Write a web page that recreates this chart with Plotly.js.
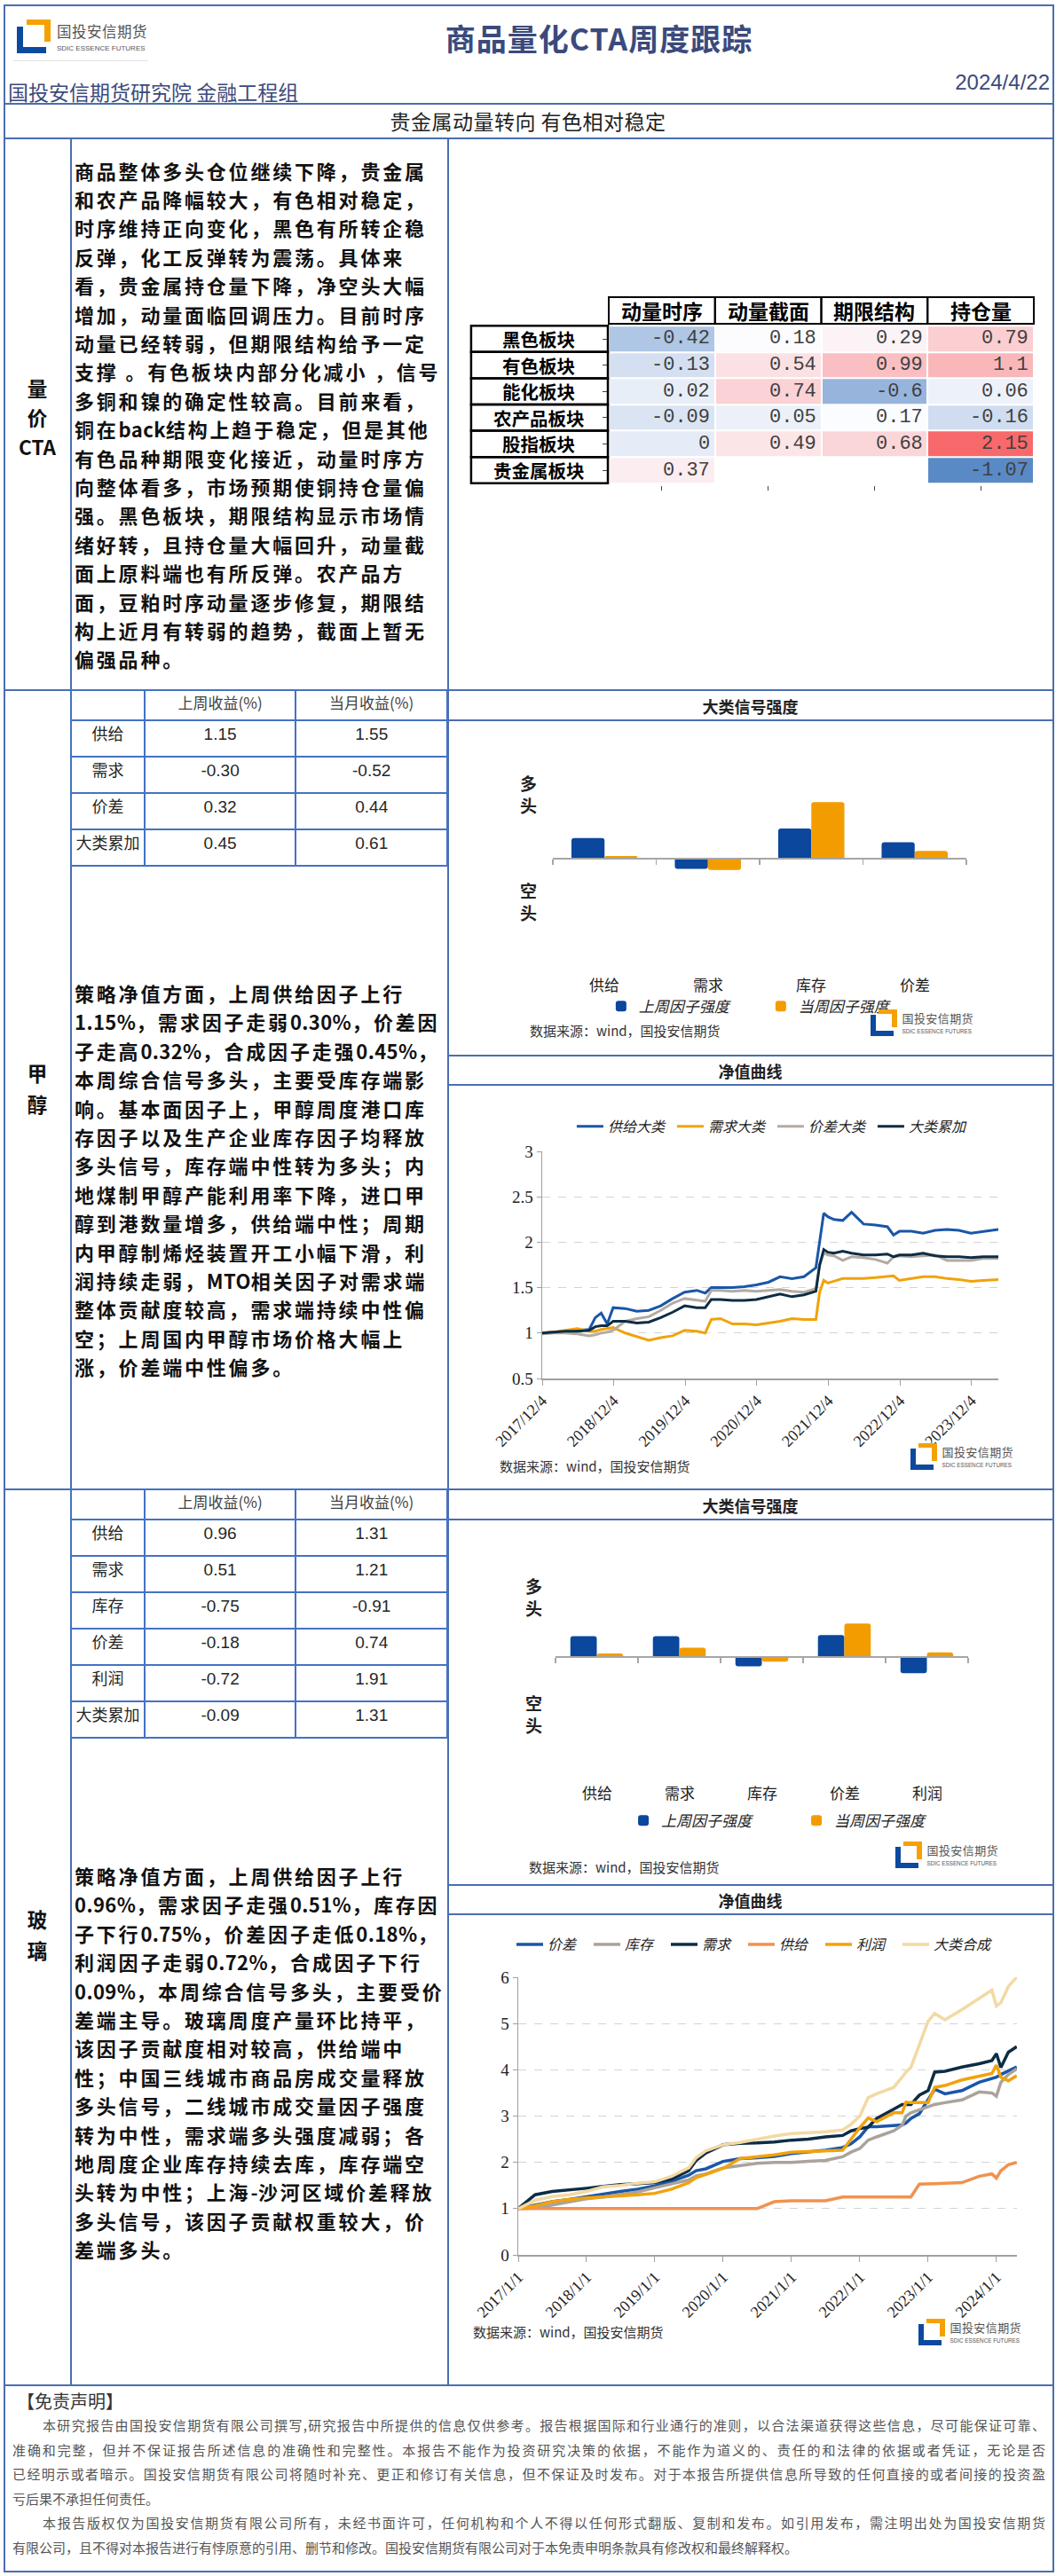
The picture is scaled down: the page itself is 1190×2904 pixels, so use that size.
<!DOCTYPE html>
<html><head><meta charset="utf-8">
<script src="https://cdn.plot.ly/plotly-3.0.1.min.js"></script>
<style>
body{margin:0;background:#fff;}
#page{position:relative;width:1190px;height:2904px;overflow:hidden;background:#fff;font-family:"Noto Sans CJK SC","Noto Sans",sans-serif;color:#111;}
.hl{position:absolute;height:0;border-top:2px solid #4a6eb0;}
.vl{position:absolute;width:0;border-left:2px solid #4a6eb0;}
.para{position:absolute;left:84px;font-weight:700;font-size:22px;letter-spacing:2.8px;line-height:32.4px;color:#111;white-space:nowrap;}
.para .lt{letter-spacing:0.4px;}
.lab{position:absolute;left:4px;width:76px;text-align:center;font-weight:700;font-size:22.5px;color:#111;}
.ctitle{position:absolute;left:505px;width:681px;text-align:center;font-weight:700;font-size:18px;color:#222;}
.src{position:absolute;font-size:15px;color:#333;white-space:nowrap;}
.plt{position:absolute;}
.disc{position:absolute;left:14px;width:1164px;font-size:15px;line-height:27.5px;color:#555;}
.disc div{text-align:justify;text-align-last:justify;white-space:nowrap;}
</style></head>
<body><div id="page">
<!-- frame -->
<div style="position:absolute;left:4px;top:5px;width:1180px;height:2891px;border:2px solid #4a6eb0;"></div>
<div class="hl" style="left:4px;top:116px;width:1182px;"></div>
<div class="hl" style="left:4px;top:155px;width:1182px;"></div>
<div class="hl" style="left:4px;top:777px;width:1182px;"></div>
<div class="hl" style="left:4px;top:1678px;width:1182px;"></div>
<div class="hl" style="left:4px;top:2688px;width:1182px;"></div>
<div class="vl" style="left:79px;top:155px;height:2533px;"></div>
<div class="vl" style="left:504px;top:155px;height:2533px;"></div>
<div class="hl" style="left:504px;top:811px;width:682px;"></div>
<div class="hl" style="left:504px;top:1189px;width:682px;"></div>
<div class="hl" style="left:504px;top:1222px;width:682px;"></div>
<div class="hl" style="left:504px;top:1712px;width:682px;"></div>
<div class="hl" style="left:504px;top:2124px;width:682px;"></div>
<div class="hl" style="left:504px;top:2157px;width:682px;"></div>
<div style="position:absolute;left:15px;top:68px;width:152px;height:0;border-top:1px solid #e2e2e2;"></div>

<!-- header -->
<div style="position:absolute;left:375px;width:600px;top:18px;text-align:center;font-size:34px;line-height:50px;font-weight:700;color:#3b4a7c;letter-spacing:1px;">商品量化CTA周度跟踪</div>
<div style="position:absolute;left:9px;top:86px;font-size:23px;line-height:34px;color:#3b4a7c;white-space:nowrap;">国投安信期货研究院 金融工程组</div>
<div style="position:absolute;right:7px;top:77px;font-size:24px;line-height:32px;color:#3b4a7c;font-family:'Liberation Sans',Arial,sans-serif;">2024/4/22</div>
<div style="position:absolute;left:4px;width:1182px;top:119px;text-align:center;font-size:23px;line-height:34px;color:#222;letter-spacing:0.5px;">贵金属动量转向 有色相对稳定</div>

<!-- section labels -->
<div class="lab" style="top:421px;line-height:33px;">量<br>价<br>CTA</div>
<div class="lab" style="top:1192px;line-height:35px;">甲<br>醇</div>
<div class="lab" style="top:2146px;line-height:35px;">玻<br>璃</div>

<div class="para" id="p1" style="top:175.5px;"></div>
<div class="para" id="p2" style="top:1103px;"></div>
<div class="para" id="p3" style="top:2098px;"></div>

<div class="plt" id="heat" style="left:529px;top:323px;width:637px;height:236px;"></div>
<div class="plt" id="tblM" style="left:79px;top:777px;width:426px;height:202px;"></div>
<div class="plt" id="tblG" style="left:79px;top:1678px;width:426px;height:284px;"></div>

<div class="ctitle" style="top:782px;line-height:28px;">大类信号强度</div>
<div class="ctitle" style="top:1193px;line-height:28px;">净值曲线</div>
<div class="ctitle" style="top:1683px;line-height:28px;">大类信号强度</div>
<div class="ctitle" style="top:2128px;line-height:28px;">净值曲线</div>

<div class="plt" id="barM" style="left:505px;top:813px;width:681px;height:376px;"></div>
<div class="plt" id="netM" style="left:505px;top:1224px;width:681px;height:454px;"></div>
<div class="plt" id="barG" style="left:505px;top:1714px;width:681px;height:410px;"></div>
<div class="plt" id="netG" style="left:505px;top:2159px;width:681px;height:529px;"></div>

<div class="src" style="left:597px;top:1151px;">数据来源：wind，国投安信期货</div>
<div class="src" style="left:563px;top:1642px;">数据来源：wind，国投安信期货</div>
<div class="src" style="left:596px;top:2094px;">数据来源：wind，国投安信期货</div>
<div class="src" style="left:533px;top:2618px;">数据来源：wind，国投安信期货</div>

<div style="position:absolute;left:19px;top:2693px;font-size:20px;line-height:28px;color:#333;">【免责声明】</div>
<div class="disc" style="top:2720px;">
<div style="text-indent:34px;">本研究报告由国投安信期货有限公司撰写,研究报告中所提供的信息仅供参考。报告根据国际和行业通行的准则，以合法渠道获得这些信息，尽可能保证可靠、</div>
<div>准确和完整，但并不保证报告所述信息的准确性和完整性。本报告不能作为投资研究决策的依据，不能作为道义的、责任的和法律的依据或者凭证，无论是否</div>
<div>已经明示或者暗示。国投安信期货有限公司将随时补充、更正和修订有关信息，但不保证及时发布。对于本报告所提供信息所导致的任何直接的或者间接的投资盈</div>
<div style="text-align-last:left;">亏后果不承担任何责任。</div>
<div style="text-indent:34px;">本报告版权仅为国投安信期货有限公司所有，未经书面许可，任何机构和个人不得以任何形式翻版、复制和发布。如引用发布，需注明出处为国投安信期货</div>
<div style="text-align-last:left;">有限公司，且不得对本报告进行有悖原意的引用、删节和修改。国投安信期货有限公司对于本免责申明条款具有修改权和最终解释权。</div>
</div>
</div>
<script>
// ---------------- DATA ----------------
const sectors = ['黑色板块','有色板块','能化板块','农产品板块','股指板块','贵金属板块'];
const factors = ['动量时序','动量截面','期限结构','持仓量'];
const sigMomTS   = [-0.42,-0.13,0.02,-0.09,0,0.37];
const sigMomCS   = [0.18,0.54,0.74,0.05,0.49,null];
const sigTerm    = [0.29,0.99,-0.6,0.17,0.68,null];
const sigOI      = [0.79,1.1,0.06,-0.16,2.15,-1.07];

const retHeader = ['','上周收益(%)','当月收益(%)'];
const mRetLabels = ['供给','需求','价差','大类累加'];
const mRetWeek   = [1.15,-0.30,0.32,0.45];
const mRetMonth  = [1.55,-0.52,0.44,0.61];
const gRetLabels = ['供给','需求','库存','价差','利润','大类累加'];
const gRetWeek   = [0.96,0.51,-0.75,-0.18,-0.72,-0.09];
const gRetMonth  = [1.31,1.21,-0.91,0.74,1.91,1.31];

const barNames = ['上周因子强度','当周因子强度'];
const mBarCats = ['供给','需求','库存','价差'];
const mBarPrev = [0.19,-0.10,0.28,0.15];
const mBarCur  = [0.02,-0.11,0.53,0.07];
const gBarCats = ['供给','需求','库存','价差','利润'];
const gBarPrev = [0.18,0.18,-0.08,0.19,-0.14];
const gBarCur  = [0.03,0.08,-0.04,0.29,0.04];
const longShort = ['多<br>头','空<br>头'];

const mDates = ['2017-12-04','2018-02-01','2018-04-01','2018-06-01','2018-08-01','2018-09-01','2018-10-01','2018-11-01','2018-12-01','2019-02-01','2019-04-01','2019-06-01','2019-08-01','2019-10-01','2019-12-01','2020-02-01','2020-03-15','2020-04-15','2020-06-01','2020-08-01','2020-10-01','2020-12-01','2021-02-01','2021-04-01','2021-06-01','2021-08-01','2021-10-01','2021-10-20','2021-11-10','2021-12-01','2022-01-01','2022-02-15','2022-04-01','2022-06-01','2022-08-01','2022-10-01','2022-11-01','2022-12-01','2023-02-01','2023-04-01','2023-06-01','2023-08-01','2023-10-01','2023-12-01','2024-02-01','2024-04-19'];
const mSupply = [1.00,1.01,1.02,1.03,1.04,1.17,1.22,1.10,1.28,1.27,1.24,1.25,1.30,1.38,1.45,1.47,1.44,1.50,1.50,1.50,1.51,1.53,1.56,1.62,1.60,1.62,1.72,2.00,2.32,2.28,2.25,2.24,2.33,2.20,2.19,2.17,2.08,2.12,2.12,2.10,2.13,2.14,2.13,2.10,2.12,2.14];
const mDemand = [1.00,1.01,1.03,1.05,1.02,1.02,1.04,1.05,1.06,1.00,0.96,0.92,0.95,0.97,1.03,1.02,1.00,1.15,1.16,1.10,1.10,1.09,1.11,1.13,1.16,1.15,1.15,1.45,1.58,1.55,1.57,1.60,1.60,1.60,1.61,1.62,1.63,1.58,1.60,1.62,1.62,1.60,1.59,1.57,1.58,1.59];
const mSpread = [0.99,1.00,1.00,0.99,0.97,0.98,1.00,1.01,1.03,1.13,1.16,1.18,1.25,1.33,1.38,1.36,1.35,1.47,1.47,1.46,1.47,1.46,1.47,1.48,1.46,1.45,1.49,1.75,1.88,1.86,1.85,1.80,1.84,1.83,1.81,1.77,1.84,1.85,1.84,1.85,1.86,1.80,1.80,1.80,1.82,1.82];
const mTotal  = [1.00,1.01,1.02,1.02,1.03,1.07,1.08,1.08,1.13,1.13,1.11,1.12,1.17,1.23,1.30,1.28,1.28,1.37,1.37,1.36,1.36,1.37,1.40,1.43,1.40,1.42,1.46,1.75,1.92,1.89,1.88,1.90,1.88,1.86,1.86,1.87,1.84,1.86,1.86,1.88,1.85,1.84,1.84,1.83,1.84,1.84];
const mNames = ['供给大类','需求大类','价差大类','大类累加'];
const mTickVals = ['2017-12-04','2018-12-04','2019-12-04','2020-12-04','2021-12-04','2022-12-04','2023-12-04'];
const mTickText = ['2017/12/4','2018/12/4','2019/12/4','2020/12/4','2021/12/4','2022/12/4','2023/12/4'];

const gDates = ['2017-01-01','2017-04-01','2017-07-01','2017-10-01','2018-01-01','2018-04-01','2018-07-01','2018-10-01','2019-01-01','2019-04-01','2019-07-01','2019-08-10','2019-10-01','2020-01-01','2020-04-01','2020-07-01','2020-10-01','2021-01-01','2021-04-01','2021-07-01','2021-10-01','2021-11-15','2022-01-01','2022-02-15','2022-04-01','2022-07-01','2022-08-15','2022-09-05','2022-10-01','2022-11-15','2023-01-01','2023-02-05','2023-04-01','2023-07-01','2023-10-01','2023-12-08','2024-01-01','2024-01-25','2024-03-05','2024-04-19'];
const gSpread    = [1.00,1.08,1.15,1.20,1.26,1.32,1.37,1.42,1.49,1.59,1.72,1.82,1.86,2.02,2.08,2.10,2.13,2.19,2.22,2.26,2.32,2.40,2.55,2.77,2.77,2.79,2.81,2.85,2.95,3.05,3.35,3.58,3.48,3.55,3.73,3.82,3.84,3.90,3.98,4.06];
const gInventory = [1.00,1.01,1.08,1.15,1.21,1.25,1.30,1.36,1.45,1.53,1.62,1.71,1.75,1.88,1.93,1.98,2.00,2.00,2.02,2.04,2.12,2.22,2.30,2.48,2.55,2.68,2.80,3.00,3.07,3.14,3.20,3.25,3.29,3.35,3.52,3.50,3.43,3.73,3.90,4.02];
const gDemand    = [1.00,1.30,1.37,1.40,1.44,1.48,1.52,1.54,1.56,1.64,1.82,2.04,2.20,2.38,2.41,2.42,2.44,2.48,2.50,2.55,2.58,2.68,2.73,2.76,2.95,3.15,3.25,3.25,3.25,3.45,3.55,3.95,3.97,4.06,4.13,4.20,4.35,4.05,4.38,4.50];
const gSupply    = [1.00,1.00,1.00,1.00,1.00,1.00,1.00,1.00,1.00,1.00,1.00,1.00,1.00,1.00,1.00,1.00,1.15,1.17,1.17,1.17,1.25,1.25,1.25,1.25,1.25,1.25,1.25,1.25,1.25,1.53,1.53,1.54,1.55,1.56,1.70,1.75,1.66,1.82,1.95,2.00];
const gProfit    = [1.00,1.06,1.15,1.20,1.23,1.25,1.27,1.30,1.33,1.42,1.56,1.67,1.74,1.87,2.08,2.12,2.16,2.22,2.24,2.25,2.26,2.50,2.75,2.96,2.88,3.07,3.07,3.30,3.29,3.29,3.29,3.62,3.66,3.78,3.87,3.92,4.10,3.84,3.76,3.87];
const gSynth     = [1.00,1.18,1.26,1.30,1.37,1.47,1.50,1.55,1.58,1.70,1.88,2.10,2.25,2.38,2.43,2.50,2.57,2.62,2.64,2.66,2.70,2.82,3.00,3.40,3.48,3.62,3.84,3.95,4.05,4.55,5.05,5.22,5.08,5.30,5.55,5.72,5.38,5.45,5.80,6.00];
const gNames = ['价差','库存','需求','供给','利润','大类合成'];
const gTickVals = ['2017-01-01','2018-01-01','2019-01-01','2020-01-01','2021-01-01','2022-01-01','2023-01-01','2024-01-01'];
const gTickText = ['2017/1/1','2018/1/1','2019/1/1','2020/1/1','2021/1/1','2022/1/1','2023/1/1','2024/1/1'];

const textCTA = ['商品整体多头仓位继续下降，贵金属','和农产品降幅较大，有色相对稳定，','时序维持正向变化，黑色有所转企稳','反弹，化工反弹转为震荡。具体来','看，贵金属持仓量下降，净空头大幅','增加，动量面临回调压力。目前时序','动量已经转弱，但期限结构给予一定','支撑 。有色板块内部分化减小 ，信号','多铜和镍的确定性较高。目前来看，','铜在back结构上趋于稳定，但是其他','有色品种期限变化接近，动量时序方','向整体看多，市场预期使铜持仓量偏','强。黑色板块，期限结构显示市场情','绪好转，且持仓量大幅回升，动量截','面上原料端也有所反弹。农产品方','面，豆粕时序动量逐步修复，期限结','构上近月有转弱的趋势，截面上暂无','偏强品种。'];
const textM = ['策略净值方面，上周供给因子上行','1.15%，需求因子走弱0.30%，价差因','子走高0.32%，合成因子走强0.45%，','本周综合信号多头，主要受库存端影','响。基本面因子上，甲醇周度港口库','存因子以及生产企业库存因子均释放','多头信号，库存端中性转为多头；内','地煤制甲醇产能利用率下降，进口甲','醇到港数量增多，供给端中性；周期','内甲醇制烯烃装置开工小幅下滑，利','润持续走弱，MTO相关因子对需求端','整体贡献度较高，需求端持续中性偏','空；上周国内甲醇市场价格大幅上','涨，价差端中性偏多。'];
const textG = ['策略净值方面，上周供给因子上行','0.96%，需求因子走强0.51%，库存因','子下行0.75%，价差因子走低0.18%，','利润因子走弱0.72%，合成因子下行','0.09%，本周综合信号多头，主要受价','差端主导。玻璃周度产量环比持平，','该因子贡献度相对较高，供给端中','性；中国三线城市商品房成交量释放','多头信号，二线城市成交量因子强度','转为中性，需求端多头强度减弱；各','地周度企业库存持续去库，库存端空','头转为中性；上海-沙河区域价差释放','多头信号，该因子贡献权重较大，价','差端多头。'];

// ---------------- RENDER ----------------
const CJK = '"Noto Sans CJK SC", "Noto Sans", sans-serif';
const SERIF = '"Liberation Serif", "DejaVu Serif", serif';
const cfg = {staticPlot:true, displayModeBar:false};
const page = document.getElementById('page');

function fillPara(id, lines){
  document.getElementById(id).innerHTML = lines.map(l=>l.replace(/([A-Za-z0-9.%\-]+)/g,'<span class="lt">$1</span>')).join('<br>');
}
fillPara('p1',textCTA); fillPara('p2',textM); fillPara('p3',textG);

function addLogo(x, y, s){
  const k = s/38;
  [[11,0,27,6,'#f5a100'],[31,0,7,25,'#f5a100'],[0,8,7,30,'#0b4a9f'],[0,31,33,7,'#0b4a9f']].forEach(p=>{
    const d=document.createElement('div');
    d.style.cssText=`position:absolute;left:${x+p[0]*k}px;top:${y+p[1]*k}px;width:${p[2]*k}px;height:${p[3]*k}px;background:${p[4]};`;
    page.appendChild(d);
  });
  const t=document.createElement('div');
  t.style.cssText=`position:absolute;left:${x+45*k}px;top:${y+1*k}px;font-size:${16.5*k}px;line-height:${24*k}px;color:#555;white-space:nowrap;letter-spacing:${0.5*k}px;`;
  t.textContent='国投安信期货'; page.appendChild(t);
  const e=document.createElement('div');
  e.style.cssText=`position:absolute;left:${x+45*k}px;top:${y+27*k}px;font-size:${8*k}px;line-height:${11*k}px;color:#555;white-space:nowrap;font-family:"Liberation Sans Narrow","Liberation Sans",sans-serif;`;
  e.textContent='SDIC ESSENCE FUTURES'; page.appendChild(e);
}
addLogo(19,22,38);
addLogo(981,1138,30);
addLogo(1026,1627,30);
addLogo(1009,2076,30);
addLogo(1035,2614,30);

// heatmap table
(function(){
  const z = sectors.map((s,i)=>[sigMomTS[i],sigMomCS[i],sigTerm[i],sigOI[i]]);
  const vals = z.flat().filter(v=>v!==null).sort((a,b)=>a-b);
  const n = vals.length;
  const med = n%2 ? vals[(n-1)/2] : (vals[n/2-1]+vals[n/2])/2;
  const zmin = vals[0], zmax = vals[n-1];
  const mid = (med-zmin)/(zmax-zmin);
  const W=637,H=212, labW = 156/W, hdrY = 182/H;
  const cellHalf = (W-156)/factors.length/2;
  const ann=[], shapes=[];
  factors.forEach((f,j)=>{
    ann.push({xref:'x',yref:'paper',x:f,y:(1+hdrY)/2,xanchor:'center',yanchor:'middle',text:f,showarrow:false,font:{family:CJK,size:23,color:'#000',weight:700}});
    shapes.push({type:'rect',xref:'x',yref:'paper',x0:j-0.5,x1:j+0.5,y0:hdrY,y1:1,line:{color:'#000',width:2}});
  });
  sectors.forEach((s,i)=>{
    ann.push({xref:'paper',yref:'y',x:labW/2,y:s,xanchor:'center',yanchor:'middle',text:s,showarrow:false,font:{family:CJK,size:20.5,color:'#000',weight:700}});
    shapes.push({type:'rect',xref:'paper',yref:'y',x0:0.003,x1:labW,y0:i-0.5,y1:i+0.5,line:{color:'#000',width:2.5}});
  });
  z.forEach((row,i)=>row.forEach((v,j)=>{
    if(v!==null) ann.push({xref:'x',yref:'y',x:factors[j],y:sectors[i],xanchor:'right',yanchor:'middle',xshift:cellHalf-4,text:String(v),showarrow:false,font:{family:'"Liberation Mono", monospace',size:22,color:'#404040'}});
  }));
  Plotly.newPlot('heat',[{type:'heatmap',z:z,x:factors,y:sectors,zmin:zmin,zmax:zmax,
    colorscale:[[0,'#5A8AC6'],[mid,'#FCFCFF'],[1,'#F8696B']],showscale:false,xgap:2,ygap:2,hoverinfo:'skip'}],
    {width:W,height:H+24,margin:{l:0,r:0,t:12,b:12},paper_bgcolor:'rgba(0,0,0,0)',plot_bgcolor:'#fff',
     xaxis:{domain:[labW,1],type:'category',showticklabels:false,showgrid:false,zeroline:false},
     yaxis:{domain:[0,hdrY],type:'category',autorange:'reversed',showticklabels:false,showgrid:false,zeroline:false},
     annotations:ann,shapes:shapes},cfg);
})();

// return tables
function retTable(id, labels, wk, mo, h){
  const f = a=>a.map(v=>v.toFixed(2));
  Plotly.newPlot(id,[{type:'table',columnwidth:[83,171,171],
    header:{values:retHeader,height:34,align:'center',line:{color:'#4472c4',width:2},fill:{color:'#fff'},
      font:{family:CJK,size:17,color:'#404040'}},
    cells:{values:[labels,f(wk),f(mo)],height:41,align:'center',line:{color:'#4472c4',width:2},fill:{color:'#fff'},
      font:{family:[CJK,'"Liberation Sans", Arial, sans-serif','"Liberation Sans", Arial, sans-serif'],size:[18,19,19],color:'#262626'}},
    domain:{x:[0,1],y:[0,1]}}],
    {width:426,height:h,margin:{l:1,r:1,t:1,b:0},paper_bgcolor:'rgba(0,0,0,0)'},cfg);
}
retTable('tblM',mRetLabels,mRetWeek,mRetMonth,202);
retTable('tblG',gRetLabels,gRetWeek,gRetMonth,284);

// bar charts
function barChart(id, cats, prev, cur, o){
  const data=[
    {type:'bar',x:cats,y:prev,name:barNames[0],marker:{color:'#0a479d',cornerradius:3}},
    {type:'bar',x:cats,y:cur,name:barNames[1],marker:{color:'#f39c00',cornerradius:3}}];
  const ann = cats.map(c=>({xref:'x',yref:'paper',x:c,y:0,xanchor:'center',yanchor:'top',yshift:-8,text:c,showarrow:false,font:{family:CJK,size:17,color:'#222'}}));
  ann.push({xref:'paper',yref:'paper',x:o.lsx,y:o.ly1,xanchor:'center',yanchor:'middle',text:longShort[0],showarrow:false,font:{family:CJK,size:19,color:'#222',weight:700}});
  ann.push({xref:'paper',yref:'paper',x:o.lsx,y:o.ly2,xanchor:'center',yanchor:'middle',text:longShort[1],showarrow:false,font:{family:CJK,size:19,color:'#222',weight:700}});
  Plotly.newPlot(id,data,{width:681,height:o.h,margin:o.m,paper_bgcolor:'rgba(0,0,0,0)',plot_bgcolor:'rgba(0,0,0,0)',
    barmode:'group',bargap:0.36,bargroupgap:0,showlegend:true,
    legend:{orientation:'h',x:o.lgx,y:o.lgy,xanchor:'left',yanchor:'middle',entrywidth:o.ew,entrywidthmode:'pixels',
      font:{family:CJK,size:17,color:'#222',style:'italic'},bgcolor:'rgba(0,0,0,0)'},
    xaxis:{type:'category',anchor:'free',position:0.5,showline:true,linecolor:'#a6a6a6',linewidth:2,ticks:'outside',
      tickson:'boundaries',ticklen:6,tickcolor:'#a6a6a6',tickwidth:1.5,showticklabels:false,showgrid:false,zeroline:false},
    yaxis:{range:[-1,1],tickvals:[-1,1],showticklabels:false,showgrid:true,gridcolor:'#cfcfcf',griddash:'dash',gridwidth:1.5,
      zeroline:false,showline:false,ticks:''},
    annotations:ann},cfg);
}
barChart('barM',mBarCats,mBarPrev,mBarCur,{h:376,m:{l:118,r:97,t:35,b:102},lsx:-0.058,ly1:0.803,ly2:0.297,lgx:0.122,lgy:-0.20,ew:135});
barChart('barG',gBarCats,gBarPrev,gBarCur,{h:410,m:{l:121,r:95,t:24,b:126},lsx:-0.052,ly1:0.762,ly2:0.254,lgx:0.17,lgy:-0.21,ew:150});

// net value charts
function netChart(id, dates, series, o){
  const data = series.map(s=>({type:'scatter',mode:'lines',x:dates,y:s.y,name:s.name,line:{color:s.c,width:o.lw}}));
  if(o.pad) data.push({type:'scatter',mode:'lines',x:[dates[0]],y:[null],name:' ',line:{color:'rgba(0,0,0,0)',width:0},hoverinfo:'skip'});
  Plotly.newPlot(id,data,{width:681,height:o.h,margin:o.m,paper_bgcolor:'rgba(0,0,0,0)',plot_bgcolor:'rgba(0,0,0,0)',showlegend:true,
    legend:{orientation:'h',x:o.lgx,y:o.lgy,xanchor:'left',yanchor:'middle',entrywidth:o.ew,entrywidthmode:'pixels',
      font:{family:CJK,size:16,color:'#222',style:'italic'},bgcolor:'rgba(0,0,0,0)'},
    xaxis:{type:'date',range:o.xr,tickvals:o.tv,ticktext:o.tt,tickangle:-45,ticks:'outside',ticklen:6,tickcolor:'#a0a0a0',
      showline:true,linecolor:'#a0a0a0',linewidth:1.5,showgrid:false,zeroline:false,tickfont:{family:SERIF,size:18,color:'#222'}},
    yaxis:{range:o.yr,dtick:o.dt,ticks:'outside',ticklen:5,tickcolor:'#a0a0a0',showline:true,linecolor:'#a0a0a0',linewidth:1.5,
      gridcolor:'#d4d4d4',griddash:'dash',gridwidth:1.2,zeroline:false,tickfont:{family:SERIF,size:19,color:'#222'}}},cfg);
}
netChart('netM',mDates,[
  {name:mNames[0],y:mSupply,c:'#1a56a8'},
  {name:mNames[1],y:mDemand,c:'#f0a30a'},
  {name:mNames[2],y:mSpread,c:'#b3aba3'},
  {name:mNames[3],y:mTotal,c:'#0d2d45'}],
  {h:454,m:{l:106,r:61,t:74,b:124},lw:3,lgx:0.066,lgy:1.11,ew:68,xr:['2017-12-04','2024-04-19'],tv:mTickVals,tt:mTickText,yr:[0.5,3],dt:0.5});
netChart('netG',gDates,[
  {name:gNames[0],y:gSpread,c:'#1a56a8'},
  {name:gNames[1],y:gInventory,c:'#aaa39c'},
  {name:gNames[2],y:gDemand,c:'#0d2d45'},
  {name:gNames[3],y:gSupply,c:'#f0924f'},
  {name:gNames[4],y:gProfit,c:'#f2a20c'},
  {name:gNames[5],y:gSynth,c:'#f3d9a4'}],
  {h:529,m:{l:79,r:40,t:70,b:146},lw:3.5,lgx:-0.005,lgy:1.118,ew:42,pad:true,xr:['2017-01-01','2024-04-20'],tv:gTickVals,tt:gTickText,yr:[0,6],dt:1});
</script>
</body></html>
